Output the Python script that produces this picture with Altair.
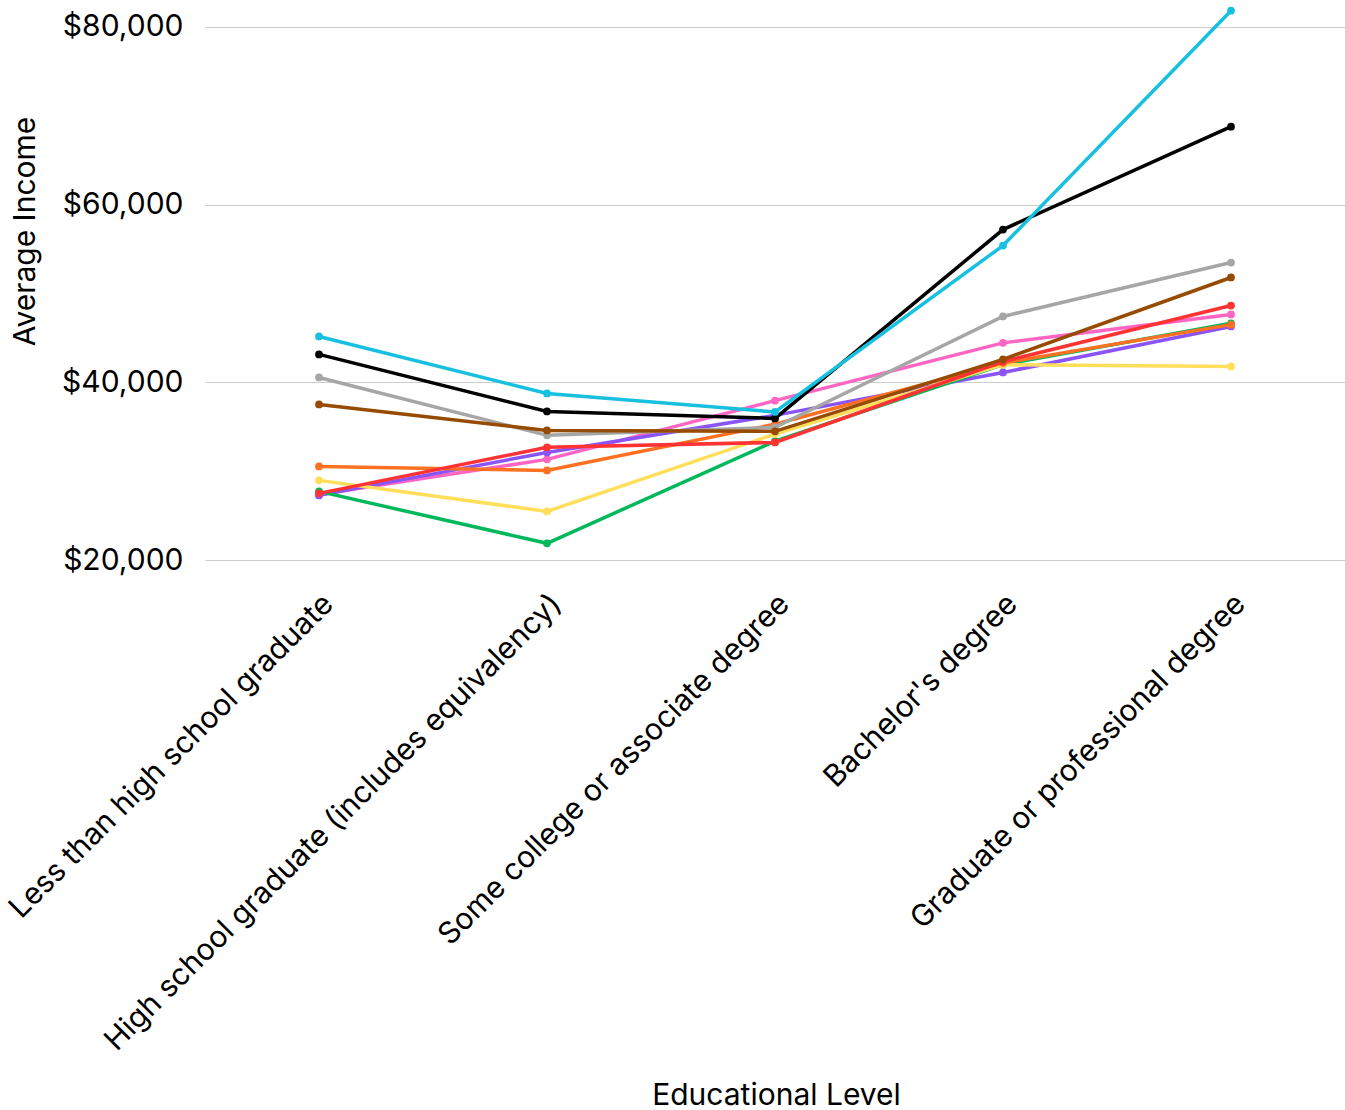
import altair as alt
import pandas as pd

levels = [
    "Less than high school graduate",
    "High school graduate (includes equivalency)",
    "Some college or associate degree",
    "Bachelor's degree",
    "Graduate or professional degree",
]

series_names = ["Group 1", "Group 2", "Group 3", "Group 4", "Group 5",
                "Group 6", "Group 7", "Group 8", "Group 9", "Group 10"]
colors = ["#ff66c4", "#8b54f7", "#00b85c", "#ffdf5a", "#ff7122",
          "#ff3333", "#a6a6a6", "#964b00", "#000000", "#18c0e0"]

values = [
    [27400, 31350, 37950, 44450, 47650],   # pink
    [27300, 32130, 36300, 41120, 46290],   # purple
    [27750, 21910, 33400, 42000, 46650],   # green
    [28990, 25500, 34200, 42000, 41800],   # yellow
    [30560, 30110, 35300, 42200, 46500],   # orange
    [27530, 32700, 33260, 42350, 48650],   # red
    [40560, 34050, 34950, 47420, 53480],   # gray
    [37530, 34600, 34500, 42600, 51800],   # brown
    [43150, 36740, 35950, 57190, 68760],   # black
    [45170, 38760, 36680, 55390, 81800],   # cyan
]

rows = []
for i, name in enumerate(series_names):
    for j, lvl in enumerate(levels):
        rows.append({"series": name, "order": i, "level": lvl, "income": values[i][j]})
df = pd.DataFrame(rows)

FONT = "Inter"
FS = 30

x = alt.X("level:N", sort=levels, title="Educational Level",
          scale=alt.Scale(type="point", padding=0.5),
          axis=alt.Axis(labelAngle=-45, labelAlign="right", labelBaseline="middle",
                        labelPadding=12, labelOffset=9, labelFontSize=FS, labelColor="#000000",
                        labelFont=FONT, ticks=False, domain=False, grid=False,
                        labelLimit=1000,
                        titleFontSize=FS, titleFont=FONT, titleFontWeight="normal",
                        titleColor="#000000", titleX=571, titleY=508,
                        titleBaseline="middle", titleAnchor="middle"))
y = alt.Y("income:Q", title="Average Income",
          scale=alt.Scale(domain=[17000, 83000], nice=False, zero=False),
          axis=alt.Axis(values=[20000, 40000, 60000, 80000], format="$,.0f",
                        labelFontSize=FS, labelFont=FONT, labelColor="#000000",
                        labelPadding=22, ticks=False, domain=False,
                        gridColor="#cccccc", gridWidth=1,
                        titleFontSize=FS, titleFont=FONT, titleFontWeight="normal",
                        titleColor="#000000", titleX=-195, titleY=231,
                        titleBaseline="top", titleAngle=-90, titleAlign="center"))
color = alt.Color("series:N", sort=series_names,
                  scale=alt.Scale(domain=series_names, range=colors), legend=None)

layers = []
for n in series_names:
    sub = df[df.series == n]
    layers.append(alt.Chart(sub).mark_line(strokeWidth=3.5).encode(x=x, y=y, color=color))
    layers.append(alt.Chart(sub).mark_point(filled=True, size=60, opacity=1).encode(x=x, y=y, color=color))

chart = alt.layer(*layers).properties(
    width=1140, height=587,
    padding={"left": 205, "top": 0, "right": 0, "bottom": 523},
    autosize=alt.AutoSizeParams(type="none"),
    background="white",
).configure_view(
    strokeWidth=0
).configure_axis(
    domain=False, ticks=False
)

chart.save("out.html", embed_options={"renderer": "svg", "actions": False})
